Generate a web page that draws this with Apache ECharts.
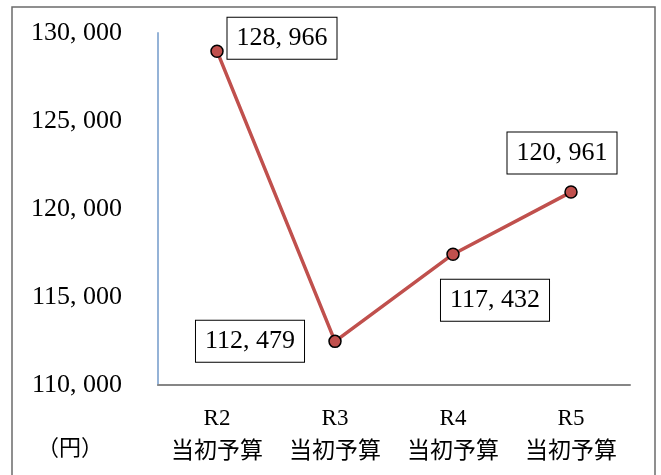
<!DOCTYPE html>
<html><head><meta charset="utf-8">
<script src="https://cdn.jsdelivr.net/npm/echarts@6/dist/echarts.min.js"></script>
<style>html,body{margin:0;padding:0;background:#fff}#c{width:661px;height:475px}</style>
</head><body><div id="c"></div>
<script>
const categories = ['R2', 'R3', 'R4', 'R5'];
const categorySub = '当初予算';
const values = [128966, 112479, 117432, 120961];
const yMin = 110000, yMax = 130000, yStep = 5000;
const unitLabel = '（円）';

const labelOffsets = [[65, -13], [-85, 0], [42, 46], [-9, -39]];
function fmt(v){ return String(v).replace(/\B(?=(\d{3})+(?!\d))/g, ', '); }

const chart = echarts.init(document.getElementById('c'), null, {renderer:'canvas'});
chart.setOption({
  animation:false,
  backgroundColor:'#fff',
  grid:{left:158, right:31, top:33, bottom:90, containLabel:false},
  graphic:[
    {type:'rect', shape:{x:12, y:7, width:643, height:480}, style:{fill:'none', stroke:'#6b6b6b', lineWidth:1.5}, silent:true},
    {type:'text', left:37, top:436, style:{text:unitLabel, font:'22px "Noto Sans CJK JP"', fill:'#000'}}
  ],
  xAxis:{
    type:'category', data:categories, boundaryGap:true,
    axisLine:{lineStyle:{color:'#868686', width:2}},
    axisTick:{show:false},
    axisLabel:{
      margin:19, interval:0,
      formatter:function(v){ return '{a|'+v+'}\n{b|'+categorySub+'}'; },
      rich:{
        a:{fontFamily:'Liberation Serif', fontSize:23, color:'#000', lineHeight:30},
        b:{fontFamily:'Noto Sans CJK JP', fontSize:23, color:'#000', lineHeight:30}
      }
    }
  },
  yAxis:{
    type:'value', min:yMin, max:yMax, interval:yStep,
    axisLine:{show:true, lineStyle:{color:'#95b3d7', width:2}},
    axisTick:{show:false},
    splitLine:{show:false},
    axisLabel:{margin:36, formatter:fmt, fontFamily:'Liberation Serif', fontSize:26, color:'#000', padding:[4,0,0,0]}
  },
  series:[{
    type:'line',
    data:values.map(function(v,i){
      return {value:v, label:{show:true, position:'inside', offset:labelOffsets[i]}};
    }),
    lineStyle:{color:'#C0504D', width:3.5},
    symbol:'circle', symbolSize:12,
    itemStyle:{color:'#C0504D', borderColor:'#000', borderWidth:1.5},
    label:{
      show:true, formatter:function(p){return fmt(p.value);},
      fontFamily:'Liberation Serif', fontSize:26, color:'#000',
      backgroundColor:'#fff', borderColor:'#000', borderWidth:1,
      padding:[8,9,7,9], align:'center', verticalAlign:'middle'
    },
    z:3
  }]
});
</script></body></html>
